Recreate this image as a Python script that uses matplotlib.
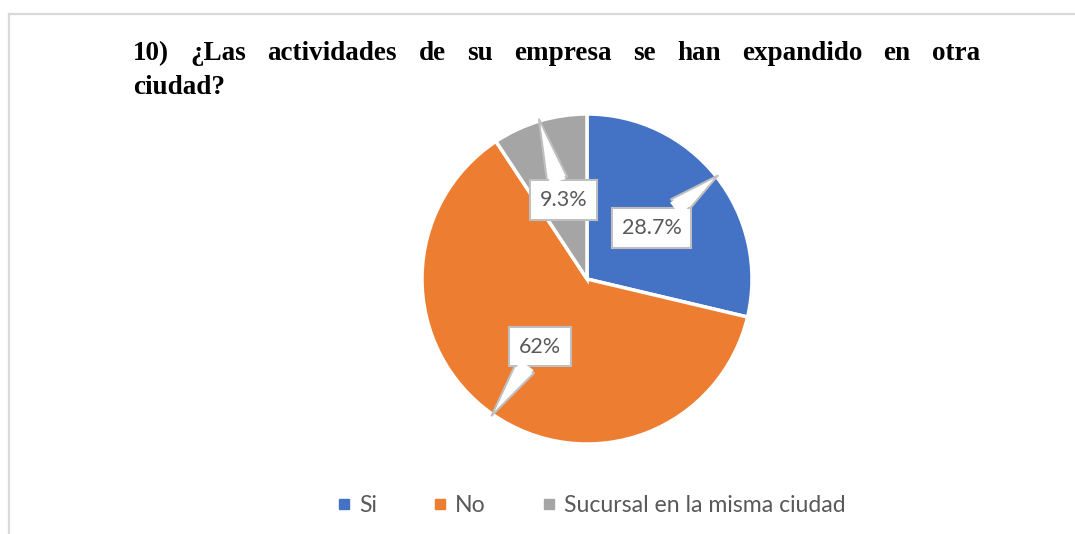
import numpy as np
import matplotlib
matplotlib.use("Agg")
import matplotlib.pyplot as plt
from matplotlib.lines import Line2D

title_line1 = "10) ¿Las actividades de su empresa se han expandido en otra"
title_line2 = "ciudad?"
categories = ["Si", "No", "Sucursal en la misma ciudad"]
values = [28.7, 62, 9.3]
value_labels = ["28.7%", "62%", "9.3%"]
colors = ["#4472C4", "#ED7D31", "#A5A5A5"]

text_grey = "#595959"
box_grey = "#BFBFBF"
label_fs = 15.5

W, H = 1075, 534
fig = plt.figure(figsize=(W / 100, H / 100), dpi=100)

# light frame of the chart area (only top and left visible)
fig.add_artist(Line2D([8.5 / W, 8.5 / W], [0, 1 - 14 / H], color="#D9D9D9", lw=1.6))
fig.add_artist(Line2D([8.5 / W, 1], [1 - 14 / H, 1 - 14 / H], color="#D9D9D9", lw=1.6))

# justified bold serif title
words = title_line1.split()
renderer = fig.canvas.get_renderer()
objs = [fig.text(0, 1 - 60.5 / H, w, fontsize=19.5, fontweight="bold",
                 family="Liberation Serif", va="baseline", ha="left") for w in words]
widths = [t.get_window_extent(renderer).width for t in objs]
x0, x1 = 133, 980
gap = (x1 - x0 - sum(widths)) / (len(words) - 1)
x = x0
for t, w in zip(objs, widths):
    t.set_x(x / W)
    x += w + gap
fig.text(x0 / W, 1 - 94 / H, title_line2, fontsize=19.5, fontweight="bold",
         family="Liberation Serif", va="baseline", ha="left")

# pie
cx, cy, r = 587, 279, 165
ax = fig.add_axes([(cx - r) / W, (H - cy - r) / H, 2 * r / W, 2 * r / H])
wedges, _ = ax.pie(values, colors=colors, startangle=90, counterclock=False,
                   wedgeprops=dict(edgecolor="white", linewidth=2.5))
ax.set_xlim(-1, 1)
ax.set_ylim(-1, 1)
ax.set_aspect("auto")


def callout(txt, xy_text, xy_tip):
    kw = dict(xy=xy_tip, xytext=xy_text, xycoords="data", textcoords="data",
              ha="center", va="center", fontsize=label_fs, color=text_grey,
              family="Lato", annotation_clip=False)
    ax.annotate(txt,
                bbox=dict(boxstyle="square,pad=0.45", fc="white", ec=box_grey, lw=1.5),
                arrowprops=dict(arrowstyle="wedge,tail_width=1.5,shrink_factor=0.5",
                                mutation_scale=10, fc="white", ec=box_grey, lw=1.5,
                                shrinkA=0, shrinkB=0), **kw)
    ax.annotate(txt,
                bbox=dict(boxstyle="square,pad=0.40", fc="white", ec="none"),
                arrowprops=dict(arrowstyle="wedge,tail_width=1.2,shrink_factor=0.5",
                                mutation_scale=10, fc="white", ec="none",
                                shrinkA=0, shrinkB=4), **kw)


for w, lab in zip(wedges, value_labels):
    ang = np.deg2rad((w.theta1 + w.theta2) / 2)
    callout(lab, (0.5 * np.cos(ang), 0.5 * np.sin(ang)),
            (1.01 * np.cos(ang), 1.01 * np.sin(ang)))

# legend
handles = [Line2D([], [], marker="s", ls="", color=c, markersize=6.5) for c in colors]
leg = fig.legend(handles, categories, loc="center", bbox_to_anchor=(591 / W, 1 - 506 / H),
                 ncol=3, frameon=False, handlelength=0.7, handletextpad=0.3,
                 columnspacing=2.4, prop=dict(family="Lato", size=16.6))
for t in leg.get_texts():
    t.set_color(text_grey)

fig.savefig("out.png", dpi=100)
